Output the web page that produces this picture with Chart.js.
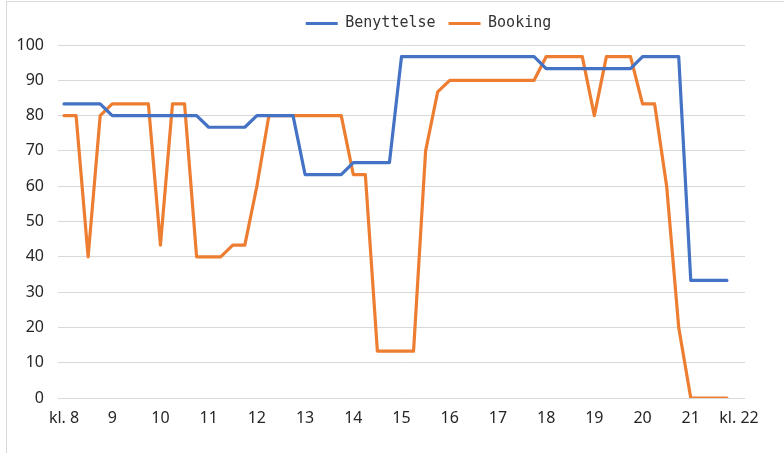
<!DOCTYPE html>
<html>
<head>
<meta charset="utf-8">
<script src="https://cdn.jsdelivr.net/npm/chart.js@4.4.1/dist/chart.umd.min.js"></script>
<style>
    html, body { margin: 0; padding: 0; background: #ffffff; }
    #wrap { position: relative; width: 784px; height: 453px; overflow: hidden; }
    #frame { position: absolute; left: 6px; top: 1px; width: 900px; height: 600px;
             border-left: 1px solid #d9d9d9; border-top: 1px solid #d9d9d9; pointer-events: none; }
</style>
</head>
<body>
<div id="wrap">
    <canvas id="chart"></canvas>
    <div id="frame"></div>
</div>
<script>
// Kvarter fra kl. 8 til kl. 22
const categories = [
    '08:00','08:15','08:30','08:45','09:00','09:15','09:30','09:45',
    '10:00','10:15','10:30','10:45','11:00','11:15','11:30','11:45',
    '12:00','12:15','12:30','12:45','13:00','13:15','13:30','13:45',
    '14:00','14:15','14:30','14:45','15:00','15:15','15:30','15:45',
    '16:00','16:15','16:30','16:45','17:00','17:15','17:30','17:45',
    '18:00','18:15','18:30','18:45','19:00','19:15','19:30','19:45',
    '20:00','20:15','20:30','20:45','21:00','21:15','21:30','21:45',
    '22:00'
];

const hourTicks = ['kl. 8','9','10','11','12','13','14','15','16','17','18','19','20','21','kl. 22'];

const benyttelse = [
    83.3, 83.3, 83.3, 83.3, 80, 80, 80, 80,
    80, 80, 80, 80, 76.7, 76.7, 76.7, 76.7,
    80, 80, 80, 80, 63.3, 63.3, 63.3, 63.3,
    66.7, 66.7, 66.7, 66.7, 96.7, 96.7, 96.7, 96.7,
    96.7, 96.7, 96.7, 96.7, 96.7, 96.7, 96.7, 96.7,
    93.3, 93.3, 93.3, 93.3, 93.3, 93.3, 93.3, 93.3,
    96.7, 96.7, 96.7, 96.7, 33.3, 33.3, 33.3, 33.3,
    null
];

const booking = [
    80, 80, 40, 80, 83.3, 83.3, 83.3, 83.3,
    43.3, 83.3, 83.3, 40, 40, 40, 43.3, 43.3,
    60, 80, 80, 80, 80, 80, 80, 80,
    63.3, 63.3, 13.3, 13.3, 13.3, 13.3, 70, 86.7,
    90, 90, 90, 90, 90, 90, 90, 90,
    96.7, 96.7, 96.7, 96.7, 80, 96.7, 96.7, 96.7,
    83.3, 83.3, 60, 20, 0, 0, 0, 0,
    null
];

const yTicks = { min: 0, max: 100, step: 10 };

const tickFont = { family: '"Noto Sans", sans-serif', size: 16 };
const legendFont = { family: '"DejaVu Sans Mono", monospace', size: 15 };

// Legenden: fast højde og lidt forskudt mod højre som i originalen
const legendTweak = {
    id: 'legendTweak',
    beforeInit(chart) {
        const fit = chart.legend.fit;
        chart.legend.fit = function() {
            fit.bind(chart.legend)();
            this.height = 42;
        };
    },
    afterLayout(chart) {
        chart.legend.left += 56;
        chart.legend.right += 56;
    }
};

new Chart(document.getElementById('chart'), {
    type: 'line',
    data: {
        labels: categories,
        datasets: [
            {
                label: 'Benyttelse',
                data: benyttelse,
                borderColor: '#4472C4',
                backgroundColor: '#4472C4',
                borderWidth: 3.2,
                pointRadius: 0,
                tension: 0,
                borderJoinStyle: 'round',
                borderCapStyle: 'round'
            },
            {
                label: 'Booking',
                data: booking,
                borderColor: '#ED7D31',
                backgroundColor: '#ED7D31',
                borderWidth: 3.2,
                pointRadius: 0,
                tension: 0,
                borderJoinStyle: 'round',
                borderCapStyle: 'round'
            }
        ]
    },
    options: {
        responsive: true,
        maintainAspectRatio: false,
        animation: false,
        layout: { padding: { left: 0, right: 39, top: 3, bottom: 0 } },
        plugins: {
            legend: {
                position: 'top',
                labels: {
                    usePointStyle: true,
                    pointStyle: 'line',
                    pointStyleWidth: 32,
                    padding: 13,
                    color: '#333333',
                    font: legendFont
                }
            },
            tooltip: { enabled: false }
        },
        scales: {
            x: {
                offset: true,
                grid: { display: false },
                border: { display: false },
                ticks: {
                    autoSkip: false,
                    maxRotation: 0,
                    minRotation: 0,
                    padding: 3,
                    color: '#262626',
                    font: tickFont,
                    callback: function(value, index) {
                        return index % 4 === 0 ? hourTicks[index / 4] : '';
                    }
                },
                afterFit: function(scale) { scale.height = 55; }
            },
            y: {
                min: yTicks.min,
                max: yTicks.max,
                grid: { color: '#d9d9d9', lineWidth: 1, drawTicks: false },
                border: { display: false },
                ticks: {
                    stepSize: yTicks.step,
                    padding: 14,
                    color: '#262626',
                    font: tickFont
                },
                afterFit: function(scale) { scale.width = 58; }
            }
        }
    },
    plugins: [legendTweak]
});
</script>
</body>
</html>
